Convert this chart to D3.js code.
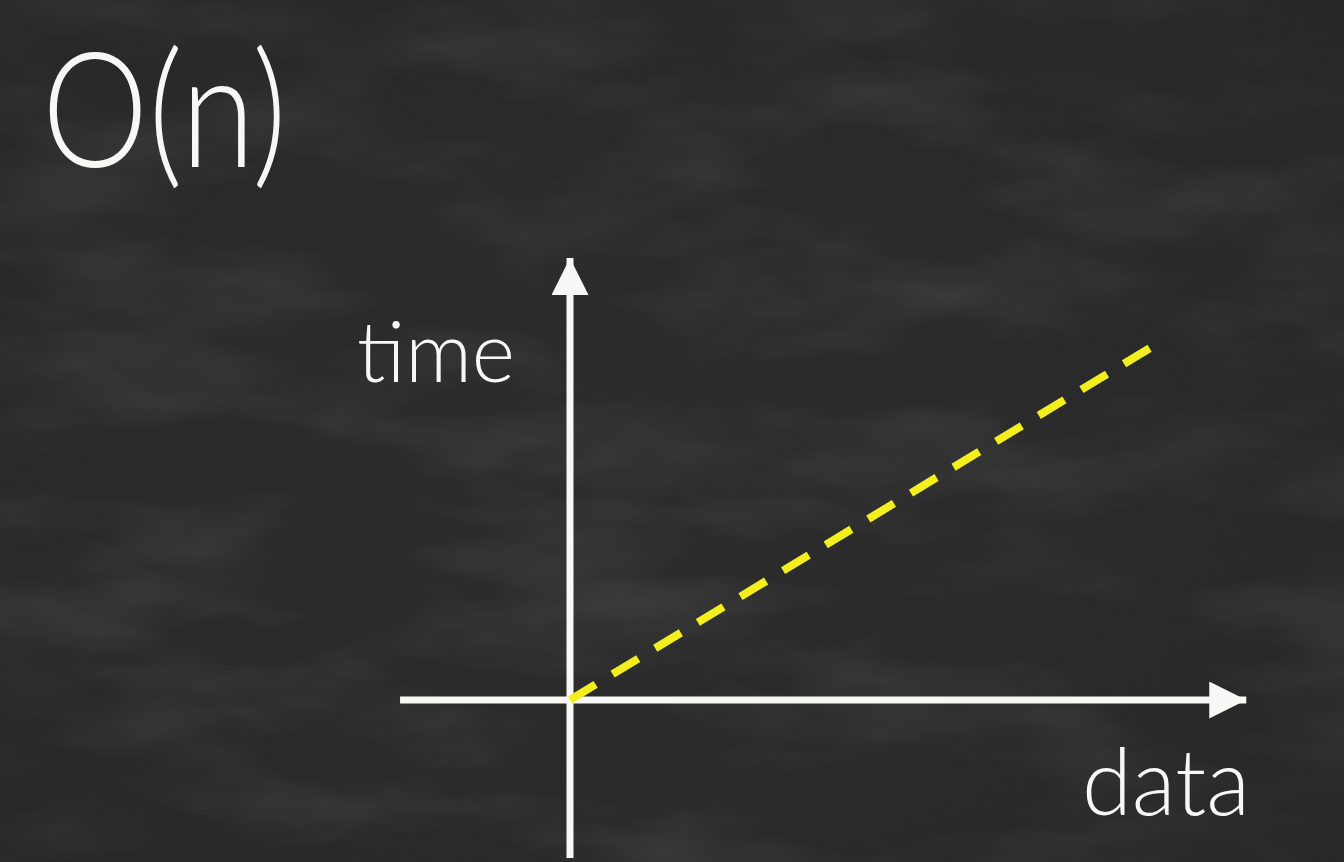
<!DOCTYPE html>
<html>
<head>
<meta charset="utf-8">
<script src="https://cdn.jsdelivr.net/npm/d3@7"></script>
<style>
  html, body { margin: 0; padding: 0; background: #2b2b2b; overflow: hidden; }
  svg { display: block; }
</style>
</head>
<body>
<script>
// ---- data ----
const title = "O(n)";
const xLabel = "data";
const yLabel = "time";
const dataSize = [0, 10];      // n (input size)
const timeTaken = [0, 10];     // linear growth O(n)

const W = 1344, H = 862;
const svg = d3.select("body").append("svg").attr("width", W).attr("height", H);

// ---- chalkboard background ----
const defs = svg.append("defs");
const f = defs.append("filter").attr("id", "chalk").attr("x", 0).attr("y", 0).attr("width", "100%").attr("height", "100%");
f.append("feTurbulence").attr("type", "fractalNoise").attr("baseFrequency", "0.004 0.012").attr("numOctaves", 4).attr("seed", 7).attr("result", "n");
f.append("feColorMatrix").attr("type", "matrix")
  .attr("values", "0 0 0 0 1  0 0 0 0 1  0 0 0 0 1  0.9 0 0 0 -0.38");
const f2 = defs.append("filter").attr("id", "grain").attr("x", 0).attr("y", 0).attr("width", "100%").attr("height", "100%");
f2.append("feTurbulence").attr("type", "fractalNoise").attr("baseFrequency", 0.9).attr("numOctaves", 2).attr("seed", 3);
f2.append("feColorMatrix").attr("type", "matrix")
  .attr("values", "0 0 0 0 1  0 0 0 0 1  0 0 0 0 1  0.5 0 0 0 -0.2");

const rg = defs.append("radialGradient").attr("id", "vig").attr("cx", "45%").attr("cy", "55%").attr("r", "75%");
rg.append("stop").attr("offset", "0%").attr("stop-color", "#1e1e1e").attr("stop-opacity", 0.0);
rg.append("stop").attr("offset", "100%").attr("stop-color", "#1a1a1a").attr("stop-opacity", 0.3);

svg.append("rect").attr("width", W).attr("height", H).attr("fill", "#2c2c2c");
svg.append("rect").attr("width", W).attr("height", H).attr("filter", "url(#chalk)").attr("opacity", 0.22);
svg.append("rect").attr("width", W).attr("height", H).attr("filter", "url(#grain)").attr("opacity", 0.08);
svg.append("rect").attr("width", W).attr("height", H).attr("fill", "url(#vig)");

// ---- scales ----
const x = d3.scaleLinear().domain([0, 10]).range([570, 1150]);
const y = d3.scaleLinear().domain([0, 10]).range([700, 348]);

const chalk = "#f7f7f5";

// arrow heads
defs.append("marker").attr("id", "arrow").attr("viewBox", "0 0 10 10")
  .attr("refX", 10).attr("refY", 5).attr("markerUnits", "userSpaceOnUse")
  .attr("markerWidth", 50).attr("markerHeight", 37).attr("orient", "auto")
  .append("path").attr("d", "M0,0 L10,5 L0,10 Z").attr("fill", chalk);

// x axis (horizontal)
svg.append("line")
  .attr("x1", x(-2.93)).attr("y1", y(0)).attr("x2", x(11.66)).attr("y2", y(0))
  .attr("stroke", chalk).attr("stroke-width", 7).attr("marker-end", "url(#arrow)");

// y axis (vertical)
svg.append("line")
  .attr("x1", x(0)).attr("y1", y(-4.49)).attr("x2", x(0)).attr("y2", y(12.56))
  .attr("stroke", chalk).attr("stroke-width", 7).attr("marker-end", "url(#arrow)");

// O(n) dashed line
const line = d3.line().x((d, i) => x(dataSize[i])).y((d, i) => y(timeTaken[i]));
svg.append("path")
  .datum(dataSize)
  .attr("d", line)
  .attr("fill", "none")
  .attr("stroke", "#f3ef1e")
  .attr("stroke-width", 8)
  .attr("stroke-dasharray", "30 19.85");

// ---- text ----
const fontFam = "Lato, 'Open Sans', sans-serif";
svg.append("text").text(title)
  .attr("x", 42).attr("y", 167)
  .attr("font-family", fontFam).attr("font-weight", 300)
  .attr("font-size", 160).attr("fill", chalk)
  .attr("textLength", 245).attr("lengthAdjust", "spacingAndGlyphs");

svg.append("text").text(yLabel)
  .attr("x", 357).attr("y", 382)
  .attr("font-family", fontFam).attr("font-weight", 300)
  .attr("font-size", 84).attr("fill", chalk)
  .attr("textLength", 158).attr("lengthAdjust", "spacingAndGlyphs");

svg.append("text").text(xLabel)
  .attr("x", 1082).attr("y", 815)
  .attr("font-family", fontFam).attr("font-weight", 300)
  .attr("font-size", 92).attr("fill", chalk)
  .attr("textLength", 168).attr("lengthAdjust", "spacingAndGlyphs");
</script>
</body>
</html>
